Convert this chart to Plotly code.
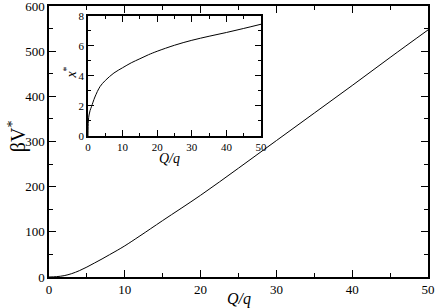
import plotly.graph_objects as go

# Main curve: beta V* vs Q/q
q_main = [0, 1, 2, 3, 4, 5, 6, 7, 8, 9, 10, 12, 15, 20, 25, 30, 35, 40, 45, 50]
bv_main = [0, 0.8, 3, 7.5, 14, 22, 31, 40, 49.5, 59, 69, 91, 125, 181, 241, 302, 363, 424, 486, 547]

# Inset curve: x* vs Q/q
q_inset = [0, 0.1, 0.3, 0.6, 1, 2, 3.5, 5, 7.5, 10, 12.5, 15, 17.5, 20, 25, 30, 35, 40, 45, 50]
x_inset = [0, 1.0, 1.4, 1.7, 1.95, 2.6, 3.3, 3.7, 4.2, 4.55, 4.88, 5.15, 5.42, 5.65, 6.05, 6.38, 6.65, 6.9, 7.17, 7.45]

FONT = "Liberation Serif"

fig = go.Figure()
fig.add_trace(go.Scatter(x=q_main, y=bv_main, mode="lines", line=dict(color="black", width=1, shape="spline"),
                         xaxis="x", yaxis="y", showlegend=False, hoverinfo="skip"))
fig.add_trace(go.Scatter(x=q_inset, y=x_inset, mode="lines", line=dict(color="black", width=1, shape="spline"),
                         xaxis="x2", yaxis="y2", showlegend=False, hoverinfo="skip"))

common = dict(showline=True, linecolor="black", linewidth=1.5, mirror="ticks", ticks="inside",
              tickcolor="black", tickwidth=1, showgrid=False, zeroline=False, automargin=False,
              ticklabeloverflow="allow",
              tickfont=dict(family=FONT, size=13, color="black"))

fig.update_layout(
    width=436, height=308,
    margin=dict(l=49, r=8, t=6, b=31),
    paper_bgcolor="white", plot_bgcolor="white",
    font=dict(family=FONT, color="black"),
    xaxis=dict(common, range=[0, 50], dtick=10, ticklen=7, domain=[0, 1],
               minor=dict(ticks="inside", dtick=5, ticklen=4, tickcolor="black", tickwidth=1)),
    yaxis=dict(common, range=[0, 600], dtick=100, ticklen=7, domain=[0, 1],
               minor=dict(ticks="inside", dtick=50, ticklen=4, tickcolor="black", tickwidth=1)),
    xaxis2=dict(common, range=[0, 50], dtick=10, ticklen=6, domain=[0.1029, 0.5594], anchor="y2",
                tickfont=dict(family=FONT, size=11, color="black"),
                minor=dict(ticks="inside", dtick=5, ticklen=3, tickcolor="black", tickwidth=1)),
    yaxis2=dict(common, range=[0, 8], dtick=2, ticklen=6, domain=[0.5203, 0.9631], anchor="x2",
                tickfont=dict(family=FONT, size=11, color="black"),
                minor=dict(ticks="inside", dtick=1, ticklen=3, tickcolor="black", tickwidth=1)),
)

titles = [
    dict(text="<i>Q/q</i>", x=0.5, y=-0.081, size=16, angle=0),
    dict(text="βV<sup>*</sup>", x=-0.084, y=0.52, size=20, angle=-90),
    dict(text="<i>Q/q</i>", x=0.319, y=0.436, size=14, angle=0),
    dict(text="<i>x</i><sup>*</sup>", x=0.056, y=0.755, size=14, angle=-90),
]
for t in titles:
    fig.add_annotation(text=t["text"], x=t["x"], y=t["y"], xref="paper", yref="paper",
                       xanchor="center", yanchor="middle", showarrow=False, textangle=t["angle"],
                       font=dict(family=FONT, size=t["size"], color="black"))

fig.write_html("out.html", config={"displayModeBar": False},
               post_script="document.body.style.margin='0';document.body.style.overflow='hidden';")
